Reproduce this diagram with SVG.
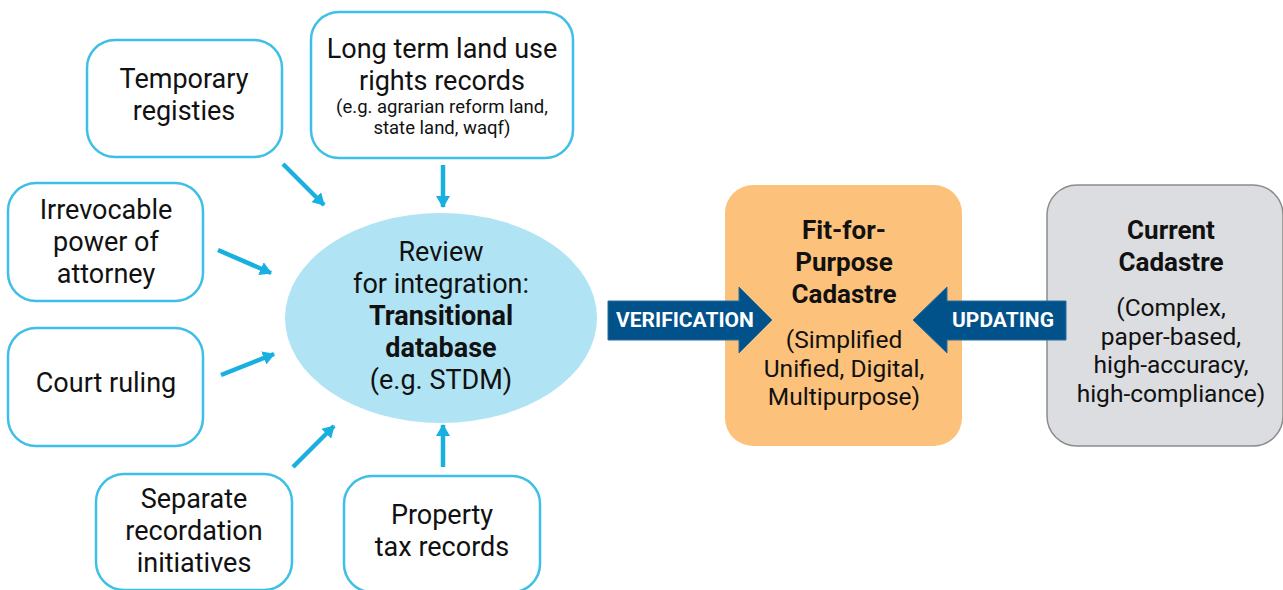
<svg xmlns="http://www.w3.org/2000/svg" width="1283" height="590" viewBox="0 0 1283 590">
  <style>
    text { font-family: Roboto, "Liberation Sans", sans-serif; fill: #111; text-anchor: middle; }
    .src { fill: #fff; stroke: #3ebfe8; stroke-width: 2.5; }
    .t { font-size: 27px; }
    .s { font-size: 18.5px; }
    .b { font-weight: bold; }
    .c { font-size: 24.5px; }
    .cb { font-size: 26px; font-weight: bold; }
    .lbl { fill: #fff; font-weight: bold; font-size: 21px; }
    .conn { stroke: #17b0e0; stroke-width: 4.5; fill: none; marker-end: url(#head); }
    .big { fill: #01528b; stroke: #2a6d9c; stroke-width: 1; }
  </style>
  <defs>
    <marker id="head" viewBox="0 0 12 14" refX="11" refY="7" markerWidth="12" markerHeight="14" markerUnits="userSpaceOnUse" orient="auto">
      <path d="M0,0 L12,7 L0,14 Z" fill="#17b0e0"/>
    </marker>
  </defs>

  <!-- source record boxes -->
  <g id="temporary">
    <rect class="src" x="87" y="40" width="195" height="117" rx="28"/>
    <text class="t" x="184" y="88">Temporary</text>
    <text class="t" x="184" y="120">registies</text>
  </g>
  <g id="longterm">
    <rect class="src" x="311" y="12" width="262" height="146" rx="28"/>
    <text class="t" x="442" y="58">Long term land use</text>
    <text class="t" x="442" y="90">rights records</text>
    <text class="s" x="442" y="113">(e.g. agrarian reform land,</text>
    <text class="s" x="442" y="134">state land, waqf)</text>
  </g>
  <g id="irrevocable">
    <rect class="src" x="8" y="183" width="195" height="118" rx="28"/>
    <text class="t" x="106" y="219">Irrevocable</text>
    <text class="t" x="106" y="251">power of</text>
    <text class="t" x="106" y="283">attorney</text>
  </g>
  <g id="court">
    <rect class="src" x="8" y="328" width="195" height="118" rx="28"/>
    <text class="t" x="106" y="392">Court ruling</text>
  </g>
  <g id="separate">
    <rect class="src" x="96" y="474" width="196" height="116" rx="28"/>
    <text class="t" x="194" y="508">Separate</text>
    <text class="t" x="194" y="540">recordation</text>
    <text class="t" x="194" y="572">initiatives</text>
  </g>
  <g id="property">
    <rect class="src" x="344" y="476" width="196" height="116" rx="28"/>
    <text class="t" x="442" y="524">Property</text>
    <text class="t" x="442" y="556">tax records</text>
  </g>

  <!-- transitional database -->
  <g id="review">
    <ellipse cx="441" cy="318" rx="156" ry="105" fill="#b0e4f4"/>
    <text class="t" x="441" y="261">Review</text>
    <text class="t" x="441" y="293">for integration:</text>
    <text class="t b" x="441" y="325">Transitional</text>
    <text class="t b" x="441" y="357">database</text>
    <text class="t" x="441" y="389">(e.g. STDM)</text>
  </g>

  <!-- fit-for-purpose cadastre -->
  <g id="ffp">
    <rect x="725" y="185" width="237" height="261" rx="28" fill="#fcc17b"/>
    <text class="cb" x="844" y="239">Fit-for-</text>
    <text class="cb" x="844" y="271">Purpose</text>
    <text class="cb" x="844" y="303">Cadastre</text>
    <text class="c" x="844" y="348">(Simplified</text>
    <text class="c" x="844" y="377">Unified, Digital,</text>
    <text class="c" x="844" y="405">Multipurpose)</text>
  </g>

  <!-- current cadastre -->
  <g id="current">
    <rect x="1047" y="185" width="236" height="261" rx="30" fill="#dcdde0" stroke="#8c8c8c" stroke-width="1.5"/>
    <text class="cb" x="1171" y="239">Current</text>
    <text class="cb" x="1171" y="271">Cadastre</text>
    <text class="c" x="1171" y="316">(Complex,</text>
    <text class="c" x="1171" y="345">paper-based,</text>
    <text class="c" x="1171" y="373">high-accuracy,</text>
    <text class="c" x="1171" y="402">high-compliance)</text>
  </g>

  <!-- connectors -->
  <g id="connectors">
    <line class="conn" x1="283" y1="164" x2="324" y2="205"/>
    <line class="conn" x1="443" y1="165" x2="443" y2="207"/>
    <line class="conn" x1="218" y1="250" x2="271" y2="273"/>
    <line class="conn" x1="221" y1="375" x2="274" y2="354"/>
    <line class="conn" x1="293" y1="467" x2="334" y2="426"/>
    <line class="conn" x1="443" y1="467" x2="443" y2="425"/>

    <g id="verification">
      <path class="big" d="M608,301 L739,301 L739,287 L772,320 L739,353 L739,340 L608,340 Z"/>
      <text class="lbl" x="685" y="327">VERIFICATION</text>
    </g>
    <g id="updating">
      <path class="big" d="M1066,301 L947,301 L947,287 L913,320 L947,353 L947,340 L1066,340 Z"/>
      <text class="lbl" x="1003" y="327">UPDATING</text>
    </g>
  </g>
</svg>
